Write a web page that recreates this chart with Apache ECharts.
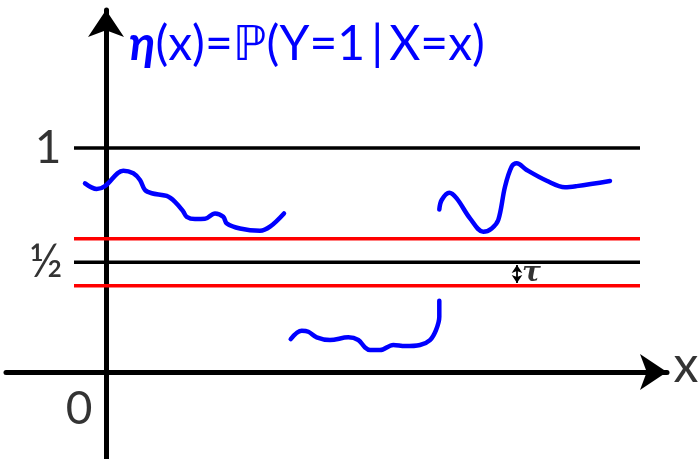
<!DOCTYPE html>
<html>
<head>
<meta charset="utf-8">
<script src="https://cdn.jsdelivr.net/npm/echarts@6/dist/echarts.min.js"></script>
<style>
  html, body { margin: 0; padding: 0; background: #fff; }
  #chart { width: 699px; height: 459px; }
</style>
</head>
<body>
<div id="chart"></div>
<script>
// Regression function eta(x) = P(Y=1 | X=x), drawn as three pieces
var etaPieceA = [
  [-0.21, 0.842], [-0.093, 0.817], [-0.01, 0.830], [0.173, 0.899], [0.273, 0.887],
  [0.34, 0.857], [0.39, 0.8125], [0.457, 0.798], [0.607, 0.786], [0.69, 0.760],
  [0.773, 0.716], [0.807, 0.693], [0.89, 0.683], [0.99, 0.684], [1.09, 0.708],
  [1.173, 0.693], [1.207, 0.664], [1.34, 0.641], [1.54, 0.631], [1.64, 0.649],
  [1.78, 0.708]
];
var etaPieceB = [
  [1.847, 0.147], [1.957, 0.184], [2.023, 0.180], [2.107, 0.155], [2.24, 0.143],
  [2.423, 0.155], [2.523, 0.143], [2.59, 0.110], [2.64, 0.098], [2.74, 0.098],
  [2.873, 0.121], [2.99, 0.116], [3.14, 0.121], [3.24, 0.143], [3.30, 0.1875],
  [3.333, 0.247], [3.333, 0.318]
];
var etaPieceC = [
  [3.333, 0.726], [3.357, 0.768], [3.433, 0.800], [3.507, 0.775], [3.64, 0.686],
  [3.773, 0.626], [3.857, 0.641], [3.923, 0.679], [3.99, 0.827], [4.057, 0.917],
  [4.107, 0.932], [4.207, 0.902], [4.407, 0.854], [4.59, 0.825], [4.707, 0.830],
  [5.04, 0.853]
];

// Reference levels: 1, one half, and the margin tau around one half
var levelOne = 1;
var levelHalf = 0.49;
var tau = 0.105;
var levelSpan = [-0.32, 5.34];   // x extent of the horizontal levels
var tauArrowX = 4.11;

// Axis tick labels: [text, x, y]
var tickLabels = [
  ['1', -0.58, 1],
  ['½', -0.60, 0.49],
  ['0', -0.27, -0.165]
];
var axisName = 'x';
var titleMain = 'η';
var titleRest = '(x)=ℙ(Y=1\u2009|\u2009X=x)';

var FONT = 'Lato, "DejaVu Sans", sans-serif';

function hLine(y, color, w) {
  return {
    type: 'line',
    data: [[levelSpan[0], y], [levelSpan[1], y]],
    symbol: 'none',
    lineStyle: { color: color, width: w },
    silent: true,
    z: 2
  };
}
function etaSeries(data) {
  return {
    type: 'line',
    data: data,
    smooth: 0.35,
    symbol: 'none',
    lineStyle: { color: '#0000ff', width: 4.5, cap: 'round', join: 'round' },
    silent: true,
    z: 4
  };
}

var chart = echarts.init(document.getElementById('chart'), null, { renderer: 'canvas' });
chart.setOption({
  animation: false,
  backgroundColor: '#ffffff',
  title: {
    text: '{eta|' + titleMain + '}{rest|' + titleRest + '}',
    left: 124,
    top: 16,
    textStyle: {
      fontWeight: 'normal',
      rich: {
        eta: { fontFamily: FONT, fontSize: 48, fontWeight: 'bold', fontStyle: 'italic', color: '#0000ff' },
        rest: { fontFamily: FONT, fontSize: 48, fontWeight: 'normal', color: '#0000ff' }
      }
    }
  },
  grid: { left: 6, right: 32, top: 10, bottom: 0 },
  xAxis: {
    type: 'value',
    min: -1.0,
    max: 5.61,
    axisLine: {
      onZero: true,
      symbol: ['none', 'arrow'],
      symbolSize: [27, 27],
      lineStyle: { color: '#000', width: 5 }
    },
    axisTick: { show: false },
    axisLabel: { show: false },
    splitLine: { show: false }
  },
  yAxis: {
    type: 'value',
    min: -0.388,
    max: 1.616,
    axisLine: {
      onZero: true,
      symbol: ['none', 'arrow'],
      symbolSize: [27, 27],
      lineStyle: { color: '#000', width: 5 }
    },
    axisTick: { show: false },
    axisLabel: { show: false },
    splitLine: { show: false }
  },
  series: [
    hLine(levelOne, '#000000', 3.5),
    hLine(levelHalf, '#000000', 3.5),
    hLine(levelHalf + tau, '#ff0000', 3.5),
    hLine(levelHalf - tau, '#ff0000', 3.5),
    etaSeries(etaPieceA),
    etaSeries(etaPieceB),
    etaSeries(etaPieceC),
    {
      // double-headed arrow marking the margin tau
      type: 'line',
      data: [],
      silent: true,
      markLine: {
        silent: true,
        symbol: ['arrow', 'arrow'],
        symbolSize: [8, 8],
        label: { show: false },
        lineStyle: { color: '#000', width: 1.8, type: 'solid' },
        data: [[{ coord: [tauArrowX, levelHalf - 0.012] }, { coord: [tauArrowX, levelHalf - tau + 0.012] }]]
      }
    },
    {
      type: 'scatter',
      data: [[tauArrowX + 0.05, levelHalf - tau / 2]],
      symbolSize: 0,
      silent: true,
      label: {
        show: true,
        position: 'right',
        distance: 0,
        formatter: 'τ',
        fontFamily: '"DejaVu Serif", serif',
        fontSize: 28,
        fontWeight: 'bold',
        fontStyle: 'italic',
        color: '#000'
      }
    },
    {
      type: 'scatter',
      data: tickLabels.map(function (t) { return { value: [t[1], t[2]], name: t[0] }; }),
      symbolSize: 0,
      silent: true,
      clip: false,
      label: {
        show: true,
        position: 'inside',
        formatter: function (p) { return p.name; },
        fontFamily: FONT,
        fontSize: 46,
        color: '#000'
      }
    },
    {
      type: 'scatter',
      data: [{ value: [5.80, 0], name: axisName }],
      symbolSize: 0,
      silent: true,
      clip: false,
      label: {
        show: true,
        position: 'inside',
        offset: [0, -6],
        formatter: function (p) { return p.name; },
        fontFamily: FONT,
        fontSize: 50,
        color: '#000'
      }
    }
  ]
});
</script>
</body>
</html>
